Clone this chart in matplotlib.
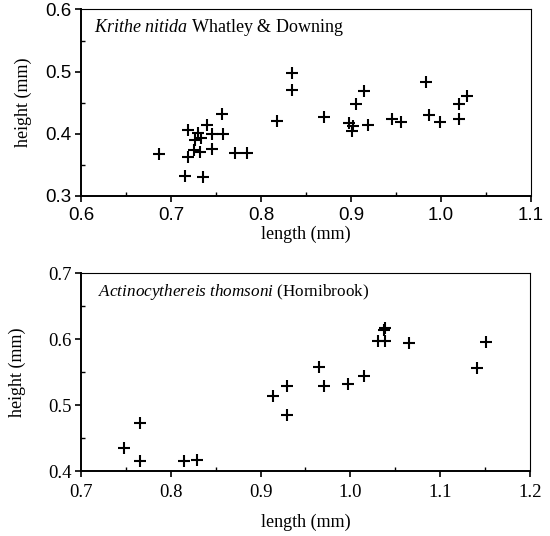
import matplotlib
matplotlib.use("Agg")
import matplotlib.pyplot as plt
from matplotlib.ticker import MultipleLocator, FormatStrFormatter

plt.rcParams['font.family'] = ['Liberation Serif', 'DejaVu Serif']
plt.rcParams['mathtext.fontset'] = 'custom'
plt.rcParams['mathtext.rm'] = 'Liberation Serif'
plt.rcParams['mathtext.it'] = 'Liberation Serif:italic'

# Krithe nitida
krithe_length = [0.687, 0.716, 0.736, 0.719, 0.719, 0.730, 0.727, 0.733, 0.726,
                 0.732, 0.740, 0.746, 0.758, 0.746, 0.757, 0.771, 0.784,
                 0.835, 0.835, 0.818, 0.870, 0.915, 0.906, 0.898, 0.902, 0.901,
                 0.919, 0.946, 0.956, 0.983, 0.987, 0.999, 1.020, 1.029, 1.020]
krithe_height = [0.367, 0.332, 0.330, 0.362, 0.406, 0.401, 0.390, 0.393, 0.374,
                 0.371, 0.414, 0.399, 0.399, 0.375, 0.432, 0.369, 0.369,
                 0.498, 0.471, 0.420, 0.426, 0.468, 0.448, 0.417, 0.413, 0.404,
                 0.414, 0.424, 0.418, 0.483, 0.430, 0.418, 0.447, 0.461, 0.424]

# Actinocythereis thomsoni
actino_length = [0.748, 0.766, 0.766, 0.815, 0.829, 0.914, 0.930, 0.930, 0.965,
                 0.971, 0.997, 1.015, 1.031, 1.039, 1.037, 1.039, 1.065, 1.141, 1.151]
actino_height = [0.435, 0.474, 0.416, 0.416, 0.417, 0.514, 0.529, 0.486, 0.558,
                 0.529, 0.533, 0.544, 0.598, 0.598, 0.614, 0.617, 0.595, 0.557, 0.596]

fig = plt.figure(figsize=(5.5, 5.36), dpi=100)
ax1 = fig.add_axes([0.1473, 0.6349, 0.818, 0.3474])
ax2 = fig.add_axes([0.1473, 0.1205, 0.816, 0.3694])


def style_axis(ax, xlim, ylim, tick_font, xpad, xlabelpad, ylabelpad):
    ax.set_xlim(*xlim)
    ax.set_ylim(*ylim)
    ax.xaxis.set_major_locator(MultipleLocator(0.1))
    ax.xaxis.set_minor_locator(MultipleLocator(0.05))
    ax.yaxis.set_major_locator(MultipleLocator(0.1))
    ax.yaxis.set_minor_locator(MultipleLocator(0.05))
    ax.xaxis.set_major_formatter(FormatStrFormatter('%.1f'))
    ax.yaxis.set_major_formatter(FormatStrFormatter('%.1f'))
    ax.tick_params(which='major', direction='out', length=4, width=1.2, labelsize=13.5, pad=3)
    ax.tick_params(axis='x', which='major', pad=xpad)
    ax.tick_params(which='minor', direction='in', length=3, width=1)
    for lab in ax.get_xticklabels() + ax.get_yticklabels():
        lab.set_family(tick_font)
    for side in ['top', 'right']:
        ax.spines[side].set_linewidth(0.8)
    for side in ['left', 'bottom']:
        ax.spines[side].set_linewidth(1.4)
    ax.set_xlabel('length (mm)', fontsize=13, labelpad=xlabelpad)
    ax.set_ylabel('height (mm)', fontsize=13, labelpad=ylabelpad)


ax1.plot(krithe_length, krithe_height, '+', color='black', markersize=8, mew=1.5)
style_axis(ax1, (0.6, 1.1), (0.3, 0.6), 'Liberation Sans', 4, 1, 9.5)
ax1.text(0.028, 0.96, r'$\it{Krithe\ nitida}$ Whatley & Downing',
         transform=ax1.transAxes, fontsize=13, va='top', ha='left')

ax2.plot(actino_length, actino_height, '+', color='black', markersize=8, mew=1.5)
style_axis(ax2, (0.7, 1.2), (0.4, 0.7), 'Liberation Serif', 5, 9, 16)
ax2.text(0.038, 0.955, r'$\it{Actinocythereis\ thomsoni}$ (Hornibrook)',
         transform=ax2.transAxes, fontsize=12.3, va='top', ha='left')

fig.savefig('out.png', dpi=100)
